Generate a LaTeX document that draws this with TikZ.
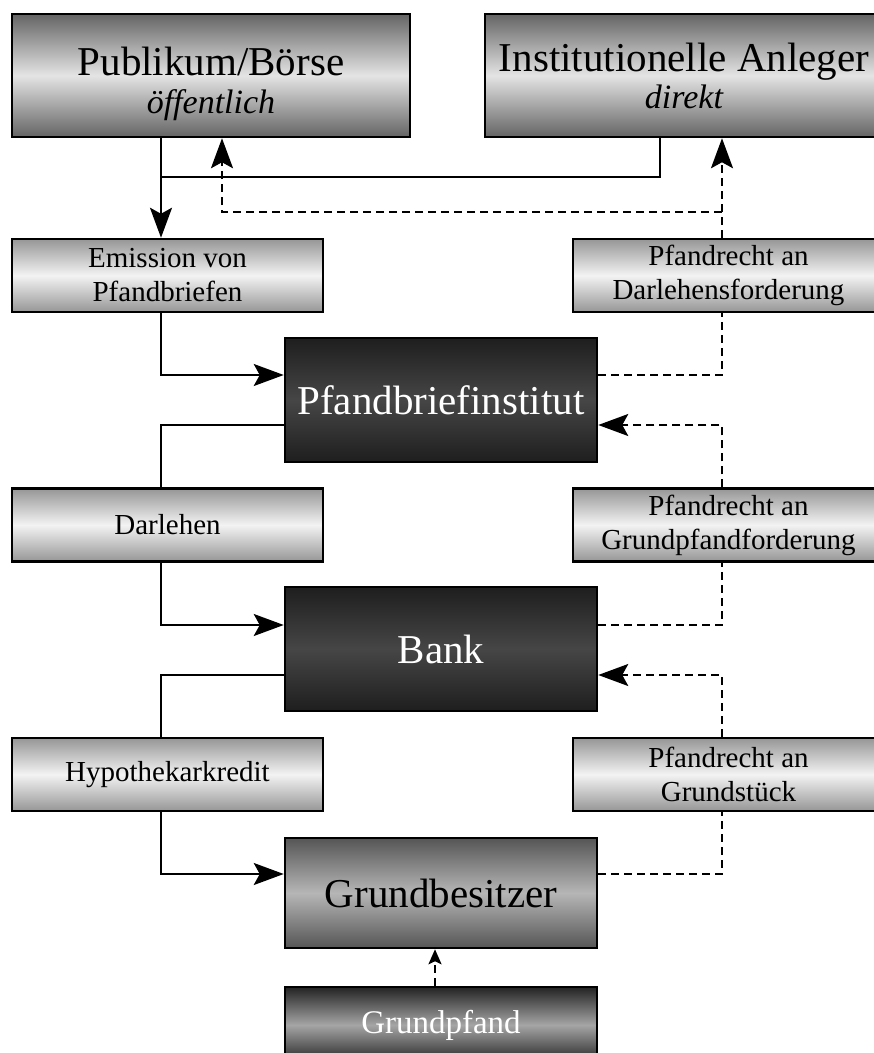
\documentclass[tikz,border=0pt]{standalone}
\usepackage{fontspec}
\setmainfont{Liberation Serif}
\usetikzlibrary{arrows.meta,positioning}
\definecolor{ink}{RGB}{0,0,0}
\definecolor{paleedge}{RGB}{150,150,150}
\definecolor{palemid}{RGB}{243,243,243}
\definecolor{lightedge}{RGB}{100,100,100}
\definecolor{lightmid}{RGB}{228,228,228}
\definecolor{darkedge}{RGB}{30,30,30}
\definecolor{darkmid}{RGB}{70,70,70}
\definecolor{midedge}{RGB}{85,85,85}
\definecolor{midmid}{RGB}{182,182,182}
\definecolor{baseedge}{RGB}{35,35,35}
\definecolor{basemid}{RGB}{165,165,165}
\newcommand\subline{\itshape\fontsize{34}{36}\selectfont}
\tikzset{
  box/.style={draw=ink, line width=2.5pt, inner sep=0pt, align=center, text=ink},
  party/.style={box, top color=lightedge, bottom color=lightedge, middle color=lightmid,
    minimum width=398pt, minimum height=123pt, font=\fontsize{41}{37}\selectfont},
  tag/.style={box, top color=paleedge, bottom color=paleedge, middle color=palemid,
    minimum width=311pt, minimum height=73pt, font=\fontsize{29}{34}\selectfont},
  inst/.style={box, top color=darkedge, bottom color=darkedge, middle color=darkmid,
    minimum width=312pt, minimum height=124pt, text=white, font=\fontsize{41}{40}\selectfont},
  owner/.style={box, top color=midedge, bottom color=midedge, middle color=midmid,
    minimum width=312pt, minimum height=110pt, font=\fontsize{41}{40}\selectfont},
  pledge/.style={box, top color=baseedge, bottom color=baseedge, middle color=basemid,
    minimum width=312pt, minimum height=76pt, text=white, font=\fontsize{33}{36}\selectfont},
  link/.style={draw=ink, line width=2.2pt},
  flow/.style={link, -{Stealth[length=30pt,width=22pt,inset=6pt]}},
  lienline/.style={link, dash pattern=on 8pt off 5pt},
  lien/.style={lienline, -{Stealth[length=30pt,width=22pt,inset=6pt]}},
  lienshort/.style={lienline, -{Stealth[length=15pt,width=13pt,inset=3pt]}},
}

\begin{document}
\begin{tikzpicture}[x=1pt, y=-1pt]
  \useasboundingbox (0,0) rectangle (874,1053);
  % investors
  \node[party] (pub) at (211,75.5) {\rule{0pt}{46pt}Publikum/Börse\\[1pt]{\subline öffentlich}};
  \node[party] (inv) at (684,75.5) {Institutionelle Anleger\\{\subline direkt}};
  % left column: what flows down
  \node[tag] (emis) at (167.5,275.5) {Emission von\\Pfandbriefen};
  \node[tag] (darl) at (167.5,525) {Darlehen};
  \node[tag] (hypo) at (167.5,774.5) {Hypothekarkredit};
  % right column: liens flowing up
  \node[tag] (pdarl) at (728.5,275.5) {Pfandrecht an\\Darlehensforderung};
  \node[tag] (pgrpf) at (728.5,525) {Pfandrecht an\\Grundpfandforderung};
  \node[tag] (pgrst) at (728.5,774.5) {Pfandrecht an\\Grundstück};
  % middle chain
  \node[inst] (pbi) at (441,400) {Pfandbriefinstitut};
  \node[inst] (bank) at (441,649) {Bank};
  \node[owner] (gb) at (441,893) {Grundbesitzer};
  \node[pledge] (gp) at (441,1025) {Grundpfand};
  \coordinate (lcol) at (161,0);
  \coordinate (rcol) at (722,0);
  \coordinate (meet) at (161,177);
  \coordinate (fork) at (722,212);
  % solid: money and credit
  \draw[flow] (pub.south -| lcol) -- (emis.north -| lcol);
  \draw[link] ([xshift=-24pt]inv.south) |- (meet);
  \draw[flow] (emis.south -| lcol) |- ([yshift=25pt]pbi.west);
  \draw[link] ([yshift=-25pt]pbi.west) -| (darl.north -| lcol);
  \draw[flow] (darl.south -| lcol) |- ([yshift=24pt]bank.west);
  \draw[link] ([yshift=-26pt]bank.west) -| (hypo.north -| lcol);
  \draw[flow] (hypo.south -| lcol) |- ([yshift=19pt]gb.west);
  % dashed: collateral
  \draw[lien] (pdarl.north -| rcol) -- (inv.south -| rcol);
  \draw[lien] (fork) -| ([xshift=11pt]pub.south);
  \draw[lienline] ([yshift=25pt]pbi.east) -| (pdarl.south -| rcol);
  \draw[lien] (pgrpf.north -| rcol) |- ([yshift=-25pt]pbi.east);
  \draw[lienline] ([yshift=24pt]bank.east) -| (pgrpf.south -| rcol);
  \draw[lien] (pgrst.north -| rcol) |- ([yshift=-26pt]bank.east);
  \draw[lienline] ([yshift=19pt]gb.east) -| (pgrst.south -| rcol);
  \draw[lienshort] ([xshift=-6pt]gp.north) -- ([xshift=-6pt]gb.south);
\end{tikzpicture}
\end{document}
